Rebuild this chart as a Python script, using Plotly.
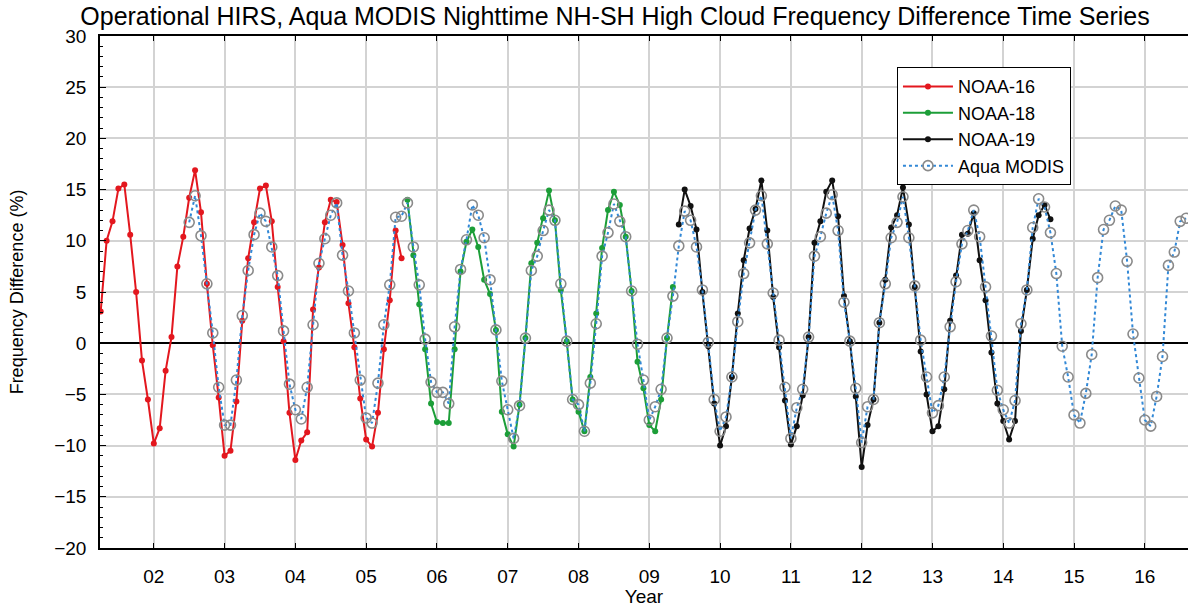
import plotly.graph_objects as go

# Monthly NH-SH high cloud frequency differences (%), one value per month
noaa16_start = (2001, 4)
noaa16 = [3.1, 10.0, 11.9, 15.1, 15.5, 10.6, 5.0, -1.7, -5.5,
          -9.8, -8.3, -2.7, 0.6, 7.5, 10.4, 14.2, 16.9, 12.8, 5.8, -0.2, -5.3,
          -11.0, -10.5, -5.7, 2.2, 8.3, 11.8, 15.1, 15.4, 11.9, 5.5, 0.2, -6.8,
          -11.4, -9.5, -8.7, 3.3, 7.4, 11.8, 14.0, 13.8, 9.6, 3.9, -0.4, -5.4,
          -9.4, -10.1, -6.8, -0.6, 4.2, 11.0, 8.3]

noaa18_start = (2005, 8)
noaa18 = [14.0, 8.6, 3.8, -0.6, -5.9,
          -7.7, -7.8, -7.8, -0.6, 7.0, 9.9, 11.1, 9.4, 6.2, 4.8, 1.3, -6.7,
          -8.9, -10.1, -6.0, 0.5, 7.8, 9.8, 12.2, 14.9, 12.0, 5.2, 0.2, -5.5,
          -6.7, -8.6, -3.3, 2.9, 9.3, 13.0, 14.8, 13.5, 10.4, 5.1, -1.8, -4.4,
          -8.0, -8.6, -5.5, 0.5, 5.5]

noaa19_start = (2009, 6)
noaa19 = [11.6, 15.0, 13.4, 11.1, 5.0, -0.3, -5.9,
          -10.0, -8.1, -3.3, 2.9, 8.1, 11.2, 13.1, 15.9, 11.0, 4.5, -0.4, -5.6,
          -9.9, -8.1, -5.1, 0.6, 9.8, 11.9, 14.8, 15.9, 12.4, 4.6, 0.2, -5.2,
          -12.1, -8.0, -5.5, 2.0, 6.2, 11.3, 12.5, 15.2, 11.6, 5.5, -0.8, -5.0,
          -8.6, -8.1, -4.5, 2.2, 6.6, 10.6, 10.7, 12.7, 8.1, 4.2, -0.9, -5.9,
          -7.6, -9.4, -7.6, 1.2, 5.2, 10.2, 12.5, 13.5, 12.1]

modis_start = (2002, 7)
modis = [11.8, 14.4, 10.5, 5.8, 1.0, -4.3,
         -8.0, -8.0, -3.6, 2.7, 7.1, 10.6, 12.7, 11.9, 9.4, 6.6, 1.2, -4.0,
         -6.5, -7.4, -4.3, 1.8, 7.8, 10.2, 12.5, 13.7, 8.6, 5.1, 1.0, -3.6,
         -7.3, -7.8, -3.9, 1.8, 5.7, 12.3, 12.4, 13.7, 9.4, 5.7, 0.4, -3.8,
         -4.8, -4.8, -5.9, 1.6, 7.2, 10.1, 13.5, 12.5, 10.3, 6.2, 1.3, -3.7,
         -6.5, -9.3, -6.1, 0.5, 7.1, 8.5, 11.0, 13.0, 12.0, 5.8, 0.2, -5.5,
         -6.0, -8.6, -3.9, 1.9, 8.5, 10.8, 13.6, 11.9, 10.4, 5.1, -0.1, -3.6,
         -7.5, -6.2, -4.5, 0.5, 4.6, 9.5, 12.9, 12.0, 9.4, 5.2, 0.1, -5.5,
         -8.6, -7.2, -3.3, 2.1, 6.8, 9.8, 13.0, 14.4, 9.7, 4.9, 0.3, -4.3,
         -9.3, -6.3, -4.5, 0.6, 8.5, 10.4, 12.7, 14.5, 11.0, 4.0, 0.2, -4.4,
         -9.7, -6.2, -5.5, 2.0, 5.8, 10.3, 11.8, 14.3, 10.3, 5.6, 0.3, -3.3,
         -6.8, -6.1, -3.3, 1.6, 6.0, 9.7, 11.0, 13.0, 10.4, 5.5, 0.7, -4.6,
         -6.5, -7.8, -5.6, 1.9, 5.2, 11.3, 14.1, 13.3, 10.8, 6.8, -0.3, -3.3,
         -7.0, -7.8, -4.9, -1.1, 6.4, 11.1, 12.0, 13.4, 13.0, 8.0, 0.9, -3.4,
         -7.5, -8.1, -5.2, -1.3, 7.6, 8.9, 11.9, 12.2]

year_ticks = list(range(2002, 2017))
year_labels = ["02", "03", "04", "05", "06", "07", "08", "09",
               "10", "11", "12", "13", "14", "15", "16"]


def monthly_x(start, n):
    """Decimal-year positions for n consecutive months from (year, month)."""
    y0, m0 = start
    return [y0 + (m0 - 1 + i) / 12.0 for i in range(n)]


FONT = "Liberation Sans, Arial, Helvetica, sans-serif"

fig = go.Figure()

for name, start, vals, color in [
    ("NOAA-16", noaa16_start, noaa16, "#e3171e"),
    ("NOAA-18", noaa18_start, noaa18, "#1c9e38"),
    ("NOAA-19", noaa19_start, noaa19, "#111111"),
]:
    fig.add_trace(go.Scatter(
        x=monthly_x(start, len(vals)), y=vals, name=name,
        mode="lines+markers",
        line=dict(color=color, width=2),
        marker=dict(color=color, size=6),
    ))

fig.add_trace(go.Scatter(
    x=monthly_x(modis_start, len(modis)), y=modis, name="Aqua MODIS",
    mode="lines+markers",
    line=dict(color="#3288d6", width=2, dash="dot"),
    marker=dict(symbol="circle-open", size=10, color="#8a8a8a",
                line=dict(width=1.6, color="#8a8a8a")),
))

fig.update_layout(
    width=1188, height=607,
    margin=dict(l=100, r=0, t=36, b=59, autoexpand=False),
    paper_bgcolor="white", plot_bgcolor="white",
    font=dict(family=FONT, color="black", size=19),
    title=dict(
        text="Operational HIRS, Aqua MODIS Nighttime NH-SH High Cloud Frequency Difference Time Series",
        font=dict(family=FONT, size=25, color="black"),
        x=615 / 1188, xref="container", xanchor="center",
        y=1 - 16 / 607, yref="container", yanchor="middle",
    ),
    showlegend=True,
    legend=dict(
        x=0.7325, y=0.939, xanchor="left", yanchor="top",
        bgcolor="white", bordercolor="black", borderwidth=1,
        font=dict(family=FONT, size=18, color="black"),
        itemwidth=50, tracegroupgap=0,
    ),
)

fig.update_xaxes(
    range=[2001.24, 2016.61],
    tickmode="array", tickvals=year_ticks, ticktext=year_labels,
    ticks="inside", ticklen=5, tickwidth=1.2, tickcolor="black",
    showline=True, linecolor="black", linewidth=1.5, mirror="ticks",
    showgrid=True, gridcolor="#d3d3d3", gridwidth=1.5,
    zeroline=False,
    ticklabelstandoff=10,
    tickfont=dict(family=FONT, size=19),
    title=dict(text="Year", font=dict(family=FONT, size=19), standoff=6),
)

fig.update_yaxes(
    range=[-20, 30], dtick=5, tick0=0,
    ticks="inside", ticklen=6, tickwidth=1.2, tickcolor="black",
    minor=dict(dtick=1, ticks="inside", ticklen=3, tickcolor="black", showgrid=False),
    showline=True, linecolor="black", linewidth=1.5,
    showgrid=True, gridcolor="#d3d3d3", gridwidth=1.5,
    zeroline=True, zerolinecolor="black", zerolinewidth=1.5,
    ticklabelstandoff=8,
    tickfont=dict(family=FONT, size=19),
    title=dict(text="Frequency Difference (%)", font=dict(family=FONT, size=18), standoff=26),
)

fig.write_html("out.html")
